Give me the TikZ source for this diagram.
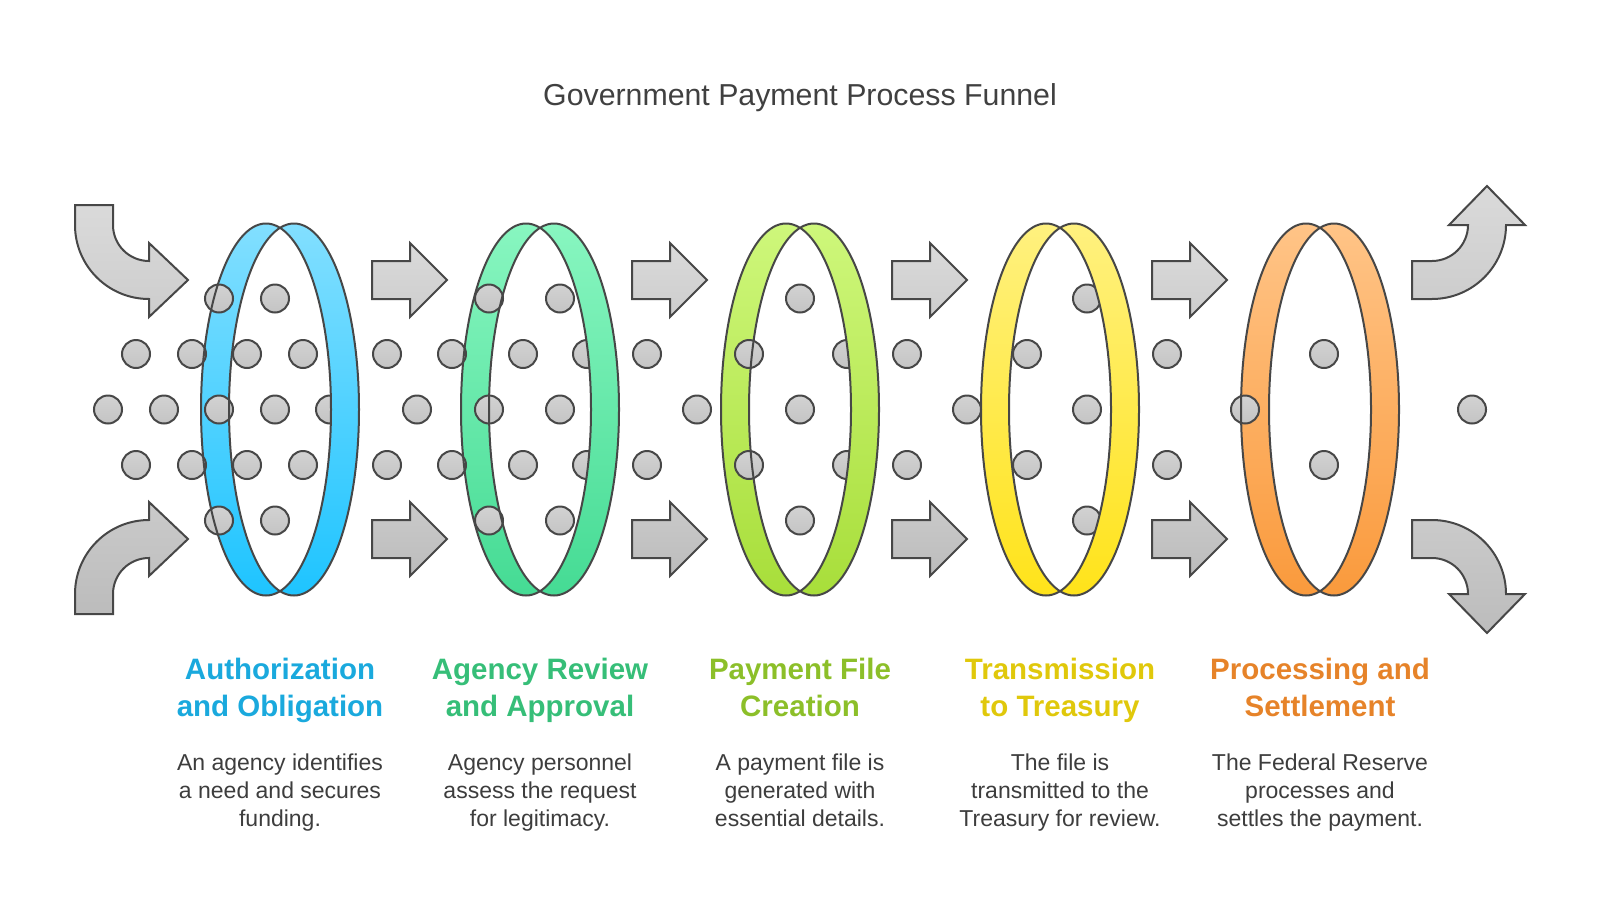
\documentclass[tikz,border=0pt]{standalone}
\usepackage{fontspec}
\setmainfont{Liberation Sans}
\usetikzlibrary{positioning}
\definecolor{edgegray}{HTML}{474747}
\definecolor{titlegray}{HTML}{404040}
\definecolor{descgray}{HTML}{3D3D3D}
\definecolor{dottop}{HTML}{D2D2D2}
\definecolor{dotbot}{HTML}{C4C4C4}
\definecolor{hitop}{HTML}{DADADA}
\definecolor{hibot}{HTML}{CDCDCD}
\definecolor{lotop}{HTML}{CACACA}
\definecolor{lobot}{HTML}{BCBCBC}
\definecolor{authtop}{HTML}{82DFFF}
\definecolor{authbot}{HTML}{1EC4FF}
\definecolor{authtxt}{HTML}{1AA9DD}
\definecolor{revtop}{HTML}{88F6C0}
\definecolor{revbot}{HTML}{45DB94}
\definecolor{revtxt}{HTML}{36BE78}
\definecolor{filetop}{HTML}{CEF77B}
\definecolor{filebot}{HTML}{A8DE3A}
\definecolor{filetxt}{HTML}{8CBF29}
\definecolor{trantop}{HTML}{FFF17F}
\definecolor{tranbot}{HTML}{FFE31A}
\definecolor{trantxt}{HTML}{E0C80B}
\definecolor{setttop}{HTML}{FFC487}
\definecolor{settbot}{HTML}{FA9A3C}
\definecolor{setttxt}{HTML}{E68329}
\tikzset{
  band/.style={top color=#1top, bottom color=#1bot, even odd rule},
  ringedge/.style={draw=edgegray, line width=2pt},
  dot/.style={draw=edgegray, line width=2pt, top color=dottop, bottom color=dotbot},
  garrow/.style={draw=edgegray, line width=2pt, line join=miter, top color=#1top, bottom color=#1bot},
  steptitle/.style={text=#1, font=\fontsize{29.5}{37}\selectfont\bfseries,
                    align=center, anchor=base, inner sep=0pt},
  stepdesc/.style={text=descgray, font=\fontsize{23}{27.6}\selectfont,
                   align=center, anchor=base, inner sep=0pt},
}

\begin{document}
\begin{tikzpicture}[x=1pt, y=-1pt]
\useasboundingbox (0,0) rectangle (1600,913);

% Title
\node[text=titlegray, font=\fontsize{30.3}{36}\selectfont, anchor=base, inner sep=0pt]
  (title) at (800,105) {Government Payment Process Funnel};

% Ring bands, back
\foreach \c/\k in {280/auth,540/rev,800/file,1060/tran,1320/sett}{
  \shade[band=\k] (\c-14,409.5) ellipse [x radius=65, y radius=186]
                  (\c+14,409.5) ellipse [x radius=65, y radius=186];
}

% Straight arrows
\foreach \x in {372,632,892,1152}{
  \draw[garrow=hi] (\x,261) -- (\x+38,261) -- (\x+38,243) -- (\x+75,280)
        -- (\x+38,317) -- (\x+38,299) -- (\x,299) -- cycle;
  \draw[garrow=lo] (\x,520) -- (\x+38,520) -- (\x+38,502) -- (\x+75,539)
        -- (\x+38,576) -- (\x+38,558) -- (\x,558) -- cycle;
}

% Curved arrows in
\draw[garrow=hi] (75,205) -- (113,205) -- (113,225) arc [start angle=180, end angle=90, radius=36]
      -- (149,243) -- (188,280) -- (149,317) -- (149,299)
      arc [start angle=90, end angle=180, radius=74] -- cycle;
\draw[garrow=lo] (75,614) -- (113,614) -- (113,594) arc [start angle=180, end angle=270, radius=36]
      -- (149,576) -- (188,539) -- (149,502) -- (149,520)
      arc [start angle=270, end angle=180, radius=74] -- cycle;

% Curved arrows out
\draw[garrow=hi] (1412,261) -- (1432,261) arc [start angle=90, end angle=0, radius=36]
      -- (1449,225) -- (1487,186) -- (1525,225) -- (1506,225)
      arc [start angle=0, end angle=90, radius=74] -- (1412,299) -- cycle;
\draw[garrow=lo] (1412,558) -- (1432,558) arc [start angle=270, end angle=360, radius=36]
      -- (1449,594) -- (1487,633) -- (1525,594) -- (1506,594)
      arc [start angle=360, end angle=270, radius=74] -- (1412,520) -- cycle;

% Dots
\foreach \x/\y in {108/409.5,164/409.5,219/409.5,275/409.5,330/409.5,
                   136/354,192/354,247/354,303/354,136/465,192/465,247/465,303/465,
                   219/298.5,275/298.5,219/520.5,275/520.5,
                   387/354,452/354,387/465,452/465,417/409.5,
                   489/298.5,560/298.5,489/520.5,560/520.5,
                   523/354,587/354,523/465,587/465,489/409.5,560/409.5,
                   647/354,647/465,697/409.5,
                   800/298.5,800/520.5,749/354,847/354,749/465,847/465,800/409.5,
                   907/354,907/465,967/409.5,
                   1087/298.5,1087/520.5,1027/354,1027/465,1087/409.5,
                   1167/354,1167/465,1245/409.5,1324/354,1324/465,
                   1472/409.5}
  \draw[dot] (\x,\y) circle [radius=14];

% Ring bands, front crescent and edges
\foreach \c/\k in {280/auth,540/rev,800/file,1060/tran,1320/sett}{
  \begin{scope}
    \clip (\c+14,409.5) ellipse [x radius=65, y radius=186];
    \shade[band=\k] (\c-14,409.5) ellipse [x radius=65, y radius=186]
                    (\c+14,409.5) ellipse [x radius=65, y radius=186];
  \end{scope}
  \draw[ringedge] (\c-14,409.5) ellipse [x radius=65, y radius=186]
                  (\c+14,409.5) ellipse [x radius=65, y radius=186];
}

% Step titles (anchored on last line)
\node[steptitle=authtxt] (authT) at (280,716) {Authorization\\and Obligation};
\node[steptitle=revtxt]  (revT)  at (540,716) {Agency Review\\and Approval};
\node[steptitle=filetxt] (fileT) at (800,716) {Payment File\\Creation};
\node[steptitle=trantxt] (tranT) at (1060,716) {Transmission\\to Treasury};
\node[steptitle=setttxt] (settT) at (1320,716) {Processing and\\Settlement};

% Step descriptions (anchored on last line)
\node[stepdesc] (authD) at (280,826) {An agency identifies\\a need and secures\\funding.};
\node[stepdesc] (revD)  at (540,826) {Agency personnel\\assess the request\\for legitimacy.};
\node[stepdesc] (fileD) at (800,826) {A payment file is\\generated with\\essential details.};
\node[stepdesc] (tranD) at (1060,826) {The file is\\transmitted to the\\Treasury for review.};
\node[stepdesc] (settD) at (1320,826) {The Federal Reserve\\processes and\\settles the payment.};

\end{tikzpicture}
\end{document}
